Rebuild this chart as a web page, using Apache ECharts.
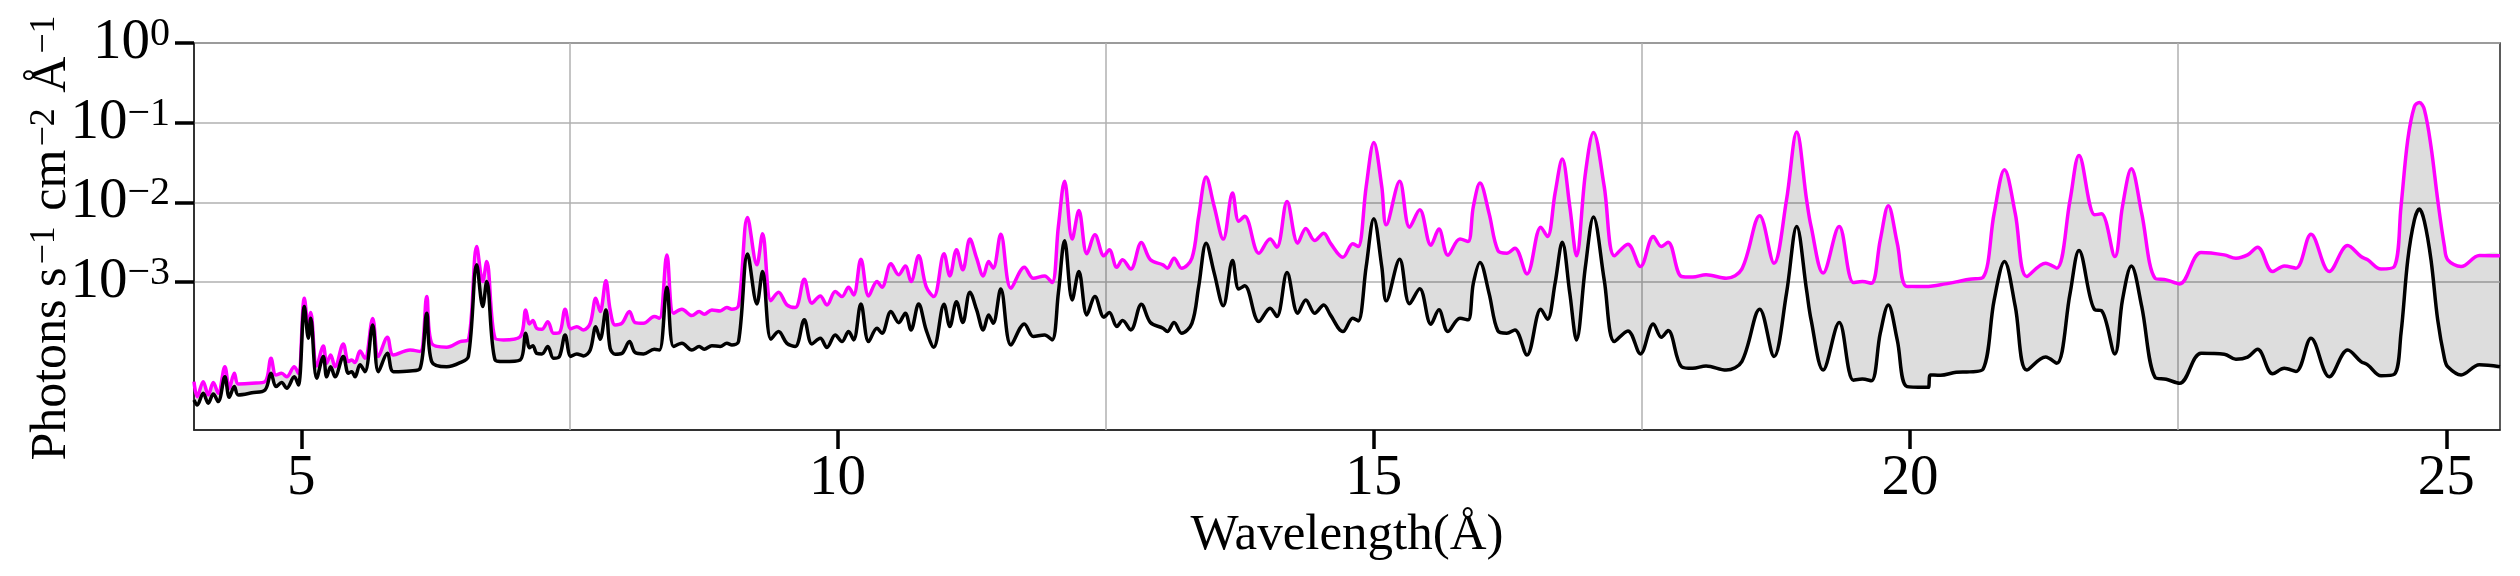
<!DOCTYPE html>
<html>
<head>
<meta charset="utf-8">
<script src="https://cdn.jsdelivr.net/npm/echarts@6/dist/echarts.min.js"></script>
<style>
html, body { margin: 0; padding: 0; background: #fff; }
#chart { width: 2520px; height: 576px; }
</style>
</head>
<body>
<div id="chart"></div>
<script>
// wavelength in Angstrom, fluxes in photons s^-1 cm^-2 A^-1
var wavelength = [
  4.00, 4.03, 4.086, 4.133, 4.18, 4.226, 4.288, 4.329, 4.376, 4.413,
  4.54, 4.662, 4.718, 4.764, 4.817, 4.864, 4.935, 4.973, 5.029, 5.066,
  5.088, 5.144, 5.206, 5.237, 5.274, 5.315, 5.392, 5.439, 5.470, 5.501,
  5.548, 5.594, 5.666, 5.719, 5.803, 5.859, 6.014, 6.108, 6.170, 6.216,
  6.356, 6.481, 6.558, 6.636, 6.692, 6.729, 6.807, 6.885, 7.041, 7.093,
  7.128, 7.159, 7.196, 7.243, 7.299, 7.352, 7.407, 7.460, 7.513, 7.569,
  7.631, 7.694, 7.746, 7.787, 7.840, 7.880, 7.927, 7.989, 8.060, 8.113,
  8.191, 8.291, 8.340, 8.409, 8.471, 8.549, 8.642, 8.710, 8.757, 8.828,
  8.906, 8.968, 9.015, 9.077, 9.161, 9.248, 9.301, 9.379, 9.450, 9.528,
  9.606, 9.690, 9.761, 9.839, 9.901, 9.979, 10.041, 10.103, 10.150, 10.218,
  10.290, 10.368, 10.414, 10.498, 10.570, 10.632, 10.685, 10.756, 10.826, 10.897,
  10.993, 11.047, 11.109, 11.168, 11.234, 11.297, 11.359, 11.409, 11.451, 11.522,
  11.617, 11.742, 11.826, 11.930, 12.000, 12.059, 12.117, 12.188, 12.250, 12.325,
  12.400, 12.484, 12.534, 12.604, 12.658, 12.734, 12.833, 12.917, 13.034, 13.075,
  13.138, 13.208, 13.304, 13.367, 13.437, 13.512, 13.596, 13.683, 13.741, 13.796,
  13.929, 14.033, 14.096, 14.191, 14.291, 14.366, 14.449, 14.533, 14.595, 14.712,
  14.804, 14.854, 14.929, 15.000, 15.074, 15.116, 15.241, 15.333, 15.428, 15.532,
  15.607, 15.691, 15.803, 15.878, 15.928, 15.990, 16.074, 16.157, 16.240, 16.315,
  16.428, 16.557, 16.619, 16.690, 16.757, 16.827, 16.890, 16.973, 17.048, 17.148,
  17.244, 17.369, 17.486, 17.606, 17.681, 17.744, 17.869, 17.973, 18.098, 18.285,
  18.431, 18.598, 18.731, 18.848, 18.943, 19.035, 19.077, 19.189, 19.339, 19.472,
  19.555, 19.639, 19.722, 19.797, 19.880, 19.972, 20.139, 20.170, 20.190, 20.284,
  20.430, 20.555, 20.680, 20.784, 20.880, 20.980, 21.088, 21.263, 21.367, 21.492,
  21.575, 21.722, 21.784, 21.909, 21.980, 22.063, 22.159, 22.284, 22.388, 22.513,
  22.713, 22.929, 23.038, 23.147, 23.240, 23.380, 23.489, 23.598, 23.738, 23.909,
  24.080, 24.204, 24.266, 24.391, 24.515, 24.577, 24.640, 24.702, 24.748, 24.795,
  24.857, 24.919, 24.982, 25.013, 25.137, 25.308, 25.500
];

// magenta curve (upper edge of the band)
var upperFlux = [
  5.66e-5, 3.67e-5, 5.66e-5, 3.85e-5, 5.5e-5, 4.04e-5, 8.7e-5, 4.67e-5, 7.2e-5, 5.3e-5,
  5.4e-5, 5.66e-5, 1.11e-4, 6.86e-5, 7.2e-5, 6.5e-5, 8.7e-5, 7.2e-5, 6.3e-4, 2.77e-4,
  4.16e-4, 8.9e-5, 1.58e-4, 9.6e-5, 1.22e-4, 8.7e-5, 1.68e-4, 1.01e-4, 1.06e-4, 9.8e-5,
  1.37e-4, 1.11e-4, 3.5e-4, 1.17e-4, 2.04e-4, 1.22e-4, 1.41e-4, 1.35e-4, 6.6e-4, 1.71e-4,
  1.53e-4, 1.80e-4, 1.89e-4, 2.8e-3, 1.02e-3, 1.82e-3, 1.98e-4, 1.89e-4, 2.07e-4, 4.49e-4,
  3.0e-4, 3.3e-4, 2.64e-4, 2.57e-4, 3.2e-4, 2.29e-4, 2.33e-4, 4.58e-4, 2.6e-4, 2.77e-4,
  2.52e-4, 3.05e-4, 6.3e-4, 4.28e-4, 1.04e-3, 4.49e-4, 2.91e-4, 3.05e-4, 4.28e-4, 3.11e-4,
  3.05e-4, 3.71e-4, 3.53e-4, 2.2e-3, 4.08e-4, 4.58e-4, 3.81e-4, 4.28e-4, 3.96e-4, 4.49e-4,
  4.36e-4, 4.81e-4, 4.58e-4, 5.1e-4, 6.5e-3, 1.65e-3, 4.04e-3, 5.87e-4, 7.48e-4, 5.19e-4,
  4.81e-4, 1.09e-3, 5.44e-4, 6.73e-4, 5.19e-4, 7.62e-4, 6.6e-4, 8.65e-4, 6.93e-4, 1.94e-3,
  6.73e-4, 1.02e-3, 8.65e-4, 1.7e-3, 1.24e-3, 1.6e-3, 1.02e-3, 2.14e-3, 8.8e-4, 6.6e-4,
  2.27e-3, 1.20e-3, 2.55e-3, 1.43e-3, 3.47e-3, 2.0e-3, 1.20e-3, 1.82e-3, 1.50e-3, 4.0e-3,
  8.4e-4, 1.54e-3, 1.12e-3, 1.20e-3, 9.9e-4, 5.0e-3, 1.84e-2, 3.47e-3, 7.9e-3, 2.27e-3,
  3.93e-3, 2.14e-3, 2.55e-3, 1.54e-3, 1.91e-3, 1.46e-3, 3.15e-3, 1.91e-3, 1.65e-3, 1.50e-3,
  2.0e-3, 1.50e-3, 2.0e-3, 6.7e-3, 2.08e-2, 8.9e-3, 3.47e-3, 1.31e-2, 5.8e-3, 6.7e-3,
  2.31e-3, 3.47e-3, 2.75e-3, 1.03e-2, 3.09e-3, 4.72e-3, 3.33e-3, 4.12e-3, 3.09e-3, 2.06e-3,
  3.03e-3, 2.8e-3, 1.59e-2, 5.66e-2, 1.59e-2, 5.25e-3, 1.84e-2, 4.9e-3, 8.1e-3, 2.91e-3,
  4.63e-3, 2.18e-3, 3.47e-3, 3.24e-3, 8.9e-3, 1.75e-2, 7.35e-3, 2.5e-3, 2.31e-3, 2.67e-3,
  1.27e-3, 4.9e-3, 3.74e-3, 1.31e-2, 3.5e-2, 8.9e-3, 2.14e-3, 2.33e-2, 7.56e-2, 1.59e-2,
  2.14e-3, 3.0e-3, 1.57e-3, 3.74e-3, 2.8e-3, 3.18e-3, 1.18e-3, 1.16e-3, 1.24e-3, 1.12e-3,
  1.46e-3, 6.8e-3, 1.73e-3, 1.08e-2, 7.63e-2, 1.08e-2, 5.0e-3, 1.30e-3, 5.0e-3, 9.9e-4,
  1.02e-3, 9.7e-4, 3.4e-3, 9.1e-3, 3.1e-3, 8.8e-4, 8.8e-4, 8.85e-4, 8.9e-4, 9.3e-4,
  1.01e-3, 1.09e-3, 1.15e-3, 7.35e-3, 2.57e-2, 7.35e-3, 1.18e-3, 1.73e-3, 1.50e-3, 1.08e-2,
  3.89e-2, 7.0e-3, 7.2e-3, 2.1e-3, 8.9e-3, 2.65e-2, 7.35e-3, 1.12e-3, 1.07e-3, 9.5e-4,
  2.36e-3, 2.2e-3, 2.0e-3, 2.2e-3, 2.75e-3, 1.36e-3, 1.6e-3, 1.5e-3, 4.0e-3, 1.36e-3,
  2.88e-3, 2.1e-3, 1.91e-3, 1.46e-3, 1.57e-3, 8.9e-3, 6.1e-2, 0.16, 0.18, 0.146,
  5.0e-2, 1.08e-2, 2.8e-3, 1.91e-3, 1.57e-3, 2.16e-3, 2.14e-3
];

// black curve (lower edge of the band)
var lowerFlux = [
  3.33e-5, 2.88e-5, 4.04e-5, 3.03e-5, 3.96e-5, 3.18e-5, 6.5e-5, 3.6e-5, 4.9e-5, 3.85e-5,
  4.1e-5, 4.45e-5, 7.2e-5, 4.9e-5, 5.5e-5, 4.67e-5, 6.5e-5, 5.14e-5, 4.94e-4, 1.98e-4,
  3.53e-4, 6.24e-5, 1.17e-4, 6.5e-5, 8.7e-5, 6.5e-5, 1.17e-4, 7.2e-5, 7.55e-5, 6.5e-5,
  9.2e-5, 7.55e-5, 2.91e-4, 7.55e-5, 1.28e-4, 7.55e-5, 7.7e-5, 8.3e-5, 4.08e-4, 1.01e-4,
  8.7e-5, 9.8e-5, 1.17e-4, 1.65e-3, 4.94e-4, 1.02e-3, 1.06e-4, 1.01e-4, 1.06e-4, 2.29e-4,
  1.51e-4, 1.6e-4, 1.28e-4, 1.26e-4, 1.56e-4, 1.11e-4, 1.17e-4, 2.18e-4, 1.17e-4, 1.26e-4,
  1.19e-4, 1.41e-4, 2.77e-4, 1.92e-4, 4.49e-4, 1.48e-4, 1.25e-4, 1.28e-4, 1.8e-4, 1.31e-4,
  1.26e-4, 1.44e-4, 1.41e-4, 8.65e-4, 1.56e-4, 1.71e-4, 1.41e-4, 1.56e-4, 1.44e-4, 1.6e-4,
  1.56e-4, 1.71e-4, 1.63e-4, 1.8e-4, 2.26e-3, 5.34e-4, 1.36e-3, 1.92e-4, 2.4e-4, 1.71e-4,
  1.56e-4, 3.37e-4, 1.68e-4, 1.98e-4, 1.52e-4, 2.18e-4, 1.8e-4, 2.4e-4, 1.89e-4, 5.34e-4,
  1.8e-4, 2.64e-4, 2.29e-4, 4.28e-4, 3.11e-4, 4.08e-4, 2.52e-4, 5.34e-4, 2.52e-4, 1.53e-4,
  5.3e-4, 2.78e-4, 5.7e-4, 3.12e-4, 7.5e-4, 4.5e-4, 2.52e-4, 3.89e-4, 3.05e-4, 8.2e-4,
  1.63e-4, 3.0e-4, 2.08e-4, 2.18e-4, 1.89e-4, 7.3e-4, 3.3e-3, 6.0e-4, 1.36e-3, 3.89e-4,
  6.6e-4, 3.64e-4, 4.16e-4, 2.78e-4, 3.3e-4, 2.52e-4, 5.3e-4, 3.12e-4, 2.65e-4, 2.4e-4,
  3.12e-4, 2.29e-4, 3.05e-4, 8.8e-4, 3.09e-3, 1.30e-3, 5.05e-4, 1.87e-3, 8.2e-4, 9.0e-4,
  3.21e-4, 4.72e-4, 3.71e-4, 1.32e-3, 4.08e-4, 6.0e-4, 4.08e-4, 5.19e-4, 3.89e-4, 2.4e-4,
  3.53e-4, 3.27e-4, 1.57e-3, 6.24e-3, 1.57e-3, 5.83e-4, 1.94e-3, 5.35e-4, 8.25e-4, 2.97e-4,
  4.5e-4, 2.4e-4, 3.53e-4, 3.37e-4, 9.7e-4, 1.77e-3, 7.3e-4, 2.45e-4, 2.29e-4, 2.52e-4,
  1.22e-4, 4.58e-4, 3.43e-4, 9.7e-4, 3.18e-3, 7.3e-4, 1.89e-4, 1.57e-3, 6.55e-3, 1.07e-3,
  1.80e-4, 2.45e-4, 1.26e-4, 3.0e-4, 2.04e-4, 2.47e-4, 8.7e-5, 8.3e-5, 8.9e-5, 7.9e-5,
  1.01e-4, 4.58e-4, 1.17e-4, 7.3e-4, 5.0e-3, 7.9e-4, 3.37e-4, 7.9e-5, 3.12e-4, 5.9e-5,
  6.1e-5, 5.8e-5, 2.29e-4, 5.19e-4, 1.89e-4, 4.9e-5, 4.8e-5, 4.8e-5, 6.87e-5, 6.8e-5,
  7.4e-5, 7.5e-5, 8.1e-5, 6.0e-4, 1.82e-3, 5.0e-4, 7.9e-5, 1.15e-4, 9.6e-5, 7.3e-4,
  2.5e-3, 4.5e-4, 4.4e-4, 1.26e-4, 6.0e-4, 1.6e-3, 5.0e-4, 6.4e-5, 6.05e-5, 5.4e-5,
  1.28e-4, 1.25e-4, 1.08e-4, 1.15e-4, 1.44e-4, 7.1e-5, 8.3e-5, 7.6e-5, 1.98e-4, 6.5e-5,
  1.41e-4, 1.01e-4, 9.2e-5, 6.7e-5, 7.0e-5, 2.29e-4, 1.9e-3, 6.05e-3, 8.25e-3, 5.8e-3,
  1.9e-3, 3.37e-4, 1.11e-4, 8.7e-5, 6.87e-5, 9.2e-5, 8.7e-5
];

var xTicks = [5, 10, 15, 20, 25];
var xGridLines = [7.5, 12.5, 17.5, 22.5];
var yTicks = [1e-3, 1e-2, 1e-1, 1];

var serif = '"Liberation Serif", "DejaVu Serif", serif';
var SMOOTH = 0.35;
var chart = echarts.init(document.getElementById('chart'));

function pairs(ys) {
  return wavelength.map(function (x, i) { return [x, ys[i]]; });
}

// grey band between the two curves, mapped through the axes
function renderBand(params, api) {
  var top = wavelength.map(function (x, i) { return api.coord([x, upperFlux[i]]); });
  var bottom = wavelength.map(function (x, i) { return api.coord([x, lowerFlux[i]]); }).reverse();
  return {
    type: 'polygon',
    shape: { points: top.concat(bottom), smooth: SMOOTH },
    style: { fill: 'rgba(0,0,0,0.135)', stroke: null }
  };
}

var option = {
  animation: false,
  backgroundColor: '#fff',
  grid: {
    left: 194, right: 20, top: 43, bottom: 146,
    show: true, borderColor: '#262626', borderWidth: 1.5,
    containLabel: false, outerBoundsMode: 'none'
  },
  xAxis: {
    type: 'value',
    min: 4, max: 25.5,
    name: 'Wavelength(\u00c5)',
    nameLocation: 'middle',
    nameGap: 80,
    nameMoveOverlap: false,
    nameTextStyle: { fontFamily: serif, fontSize: 51, color: '#000' },
    axisLine: { show: true, onZero: false, lineStyle: { color: '#262626', width: 1.5 } },
    axisTick: { show: true, inside: false, length: 19, customValues: xTicks,
      lineStyle: { color: '#000', width: 3.5 } },
    axisLabel: { customValues: xTicks, margin: 21, fontFamily: serif, fontSize: 57, color: '#000' },
    splitLine: { show: false }
  },
  yAxis: {
    type: 'log',
    logBase: 10,
    min: 1.4e-5, max: 1,
    name: '{b|Photons s}{s|\u22121}{b| cm}{s|\u22122}{b| \u00c5}{s|\u22121}',
    nameLocation: 'middle',
    nameRotate: 90,
    nameGap: 117,
    nameMoveOverlap: false,
    nameTextStyle: {
      fontFamily: serif, color: '#000',
      rich: {
        b: { fontFamily: serif, fontSize: 50, lineHeight: 50, color: '#000', verticalAlign: 'bottom' },
        s: { fontFamily: serif, fontSize: 36, lineHeight: 36, color: '#000', verticalAlign: 'top',
             padding: [0, 3, 28, 3] }
      }
    },
    axisLine: { show: true, lineStyle: { color: '#262626', width: 1.5 } },
    axisTick: { show: true, inside: false, length: 19, customValues: yTicks,
      lineStyle: { color: '#000', width: 3.5 } },
    axisLabel: {
      customValues: yTicks,
      margin: 24,
      formatter: function (v) {
        var e = Math.round(Math.log10(v));
        return '{b|10}{s|' + (e < 0 ? '\u2212' + (-e) : e) + '}';
      },
      rich: {
        b: { fontFamily: serif, fontSize: 57, lineHeight: 57, color: '#000', verticalAlign: 'bottom' },
        s: { fontFamily: serif, fontSize: 40, lineHeight: 40, color: '#000', verticalAlign: 'top',
             padding: [0, 0, 36, 0] }
      }
    },
    splitLine: { show: true, lineStyle: { color: '#b0b0b0', width: 1.5 } }
  },
  series: [
    {
      name: 'gridlines',
      type: 'line',
      data: [],
      silent: true,
      markLine: {
        silent: true,
        z: 1,
        symbol: ['none', 'none'],
        label: { show: false },
        lineStyle: { color: '#b0b0b0', width: 1.5, type: 'solid' },
        data: xGridLines.map(function (x) { return { xAxis: x }; })
      }
    },
    {
      name: 'band',
      type: 'custom',
      silent: true,
      clip: true,
      z: 2,
      data: [[wavelength[0], lowerFlux[0]]],
      renderItem: renderBand
    },
    {
      name: 'upper',
      type: 'line',
      data: pairs(upperFlux),
      smooth: SMOOTH,
      showSymbol: false,
      silent: true,
      z: 3,
      lineStyle: { color: '#ff00ff', width: 3.5 }
    },
    {
      name: 'lower',
      type: 'line',
      data: pairs(lowerFlux),
      smooth: SMOOTH,
      showSymbol: false,
      silent: true,
      z: 4,
      lineStyle: { color: '#000', width: 3.5 }
    }
  ]
};

chart.setOption(option);
</script>
</body>
</html>
